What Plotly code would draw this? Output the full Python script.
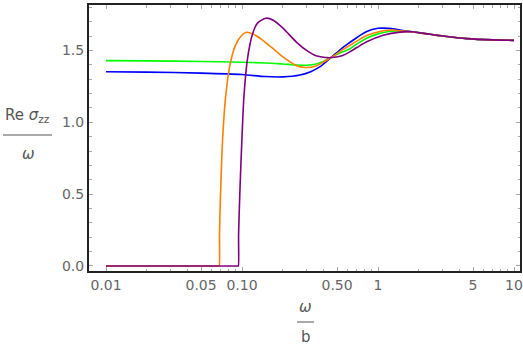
import plotly.graph_objects as go

# ---- data ----
green_x = [0.01, 0.02, 0.05, 0.1, 0.15, 0.2, 0.25, 0.3, 0.35, 0.4, 0.45, 0.55, 0.62, 0.7, 0.826, 1.0, 1.2, 1.45, 1.8, 2.41, 3.0, 4.5, 7.0, 10.0]
green_y = [1.429, 1.427, 1.423, 1.418, 1.412, 1.405, 1.399, 1.397, 1.405, 1.425, 1.45, 1.49, 1.51, 1.545, 1.585, 1.615, 1.632, 1.636, 1.63, 1.612, 1.60, 1.582, 1.573, 1.570]

blue_x = [0.01, 0.02, 0.05, 0.1, 0.148, 0.2, 0.267, 0.32, 0.375, 0.45, 0.55, 0.62, 0.7, 0.826, 1.0, 1.1, 1.3, 1.45, 1.8, 2.41, 3.0, 4.5, 7.0, 10.0]
blue_y = [1.352, 1.349, 1.342, 1.332, 1.318, 1.316, 1.329, 1.352, 1.387, 1.45, 1.52, 1.555, 1.59, 1.632, 1.654, 1.655, 1.65, 1.642, 1.628, 1.612, 1.60, 1.582, 1.573, 1.570]

orange_x = [0.01, 0.0675, 0.068, 0.0683, 0.0697, 0.072, 0.076, 0.082, 0.09, 0.1, 0.108, 0.12, 0.14, 0.17, 0.2, 0.25, 0.29, 0.35, 0.45, 0.55, 0.62, 0.7, 0.826, 1.094, 1.3, 1.45, 1.8, 2.41, 3.0, 4.5, 7.0, 10.0]
orange_y = [0.0, 0.0, 0.0, 0.22, 0.53, 0.88, 1.19, 1.41, 1.54, 1.607, 1.626, 1.615, 1.575, 1.51, 1.455, 1.395, 1.381, 1.392, 1.45, 1.505, 1.535, 1.565, 1.603, 1.637, 1.642, 1.637, 1.628, 1.612, 1.60, 1.582, 1.573, 1.570]

purple_x = [0.01, 0.0935, 0.094, 0.0944, 0.0966, 0.1, 0.1035, 0.11, 0.12, 0.13, 0.15, 0.17, 0.2, 0.25, 0.3, 0.35, 0.42, 0.48, 0.55, 0.62, 0.7, 0.826, 1.094, 1.45, 1.8, 2.41, 3.0, 4.5, 7.0, 10.0]
purple_y = [0.0, 0.0, 0.0, 0.22, 0.53, 0.9, 1.19, 1.45, 1.62, 1.69, 1.724, 1.71, 1.655, 1.56, 1.498, 1.462, 1.45, 1.452, 1.465, 1.49, 1.52, 1.56, 1.605, 1.627, 1.63, 1.612, 1.60, 1.582, 1.573, 1.570]

x_tickvals = [0.01, 0.05, 0.1, 0.5, 1, 5, 10]
x_ticktext = ["0.01", "0.05", "0.10", "0.50", "1", "5", "10"]
x_minor = [0.02, 0.03, 0.04, 0.06, 0.07, 0.08, 0.09,
           0.2, 0.3, 0.4, 0.6, 0.7, 0.8, 0.9,
           2, 3, 4, 6, 7, 8, 9]
y_tickvals = [0.0, 0.5, 1.0, 1.5]
y_ticktext = ["0.0", "0.5", "1.0", "1.5"]

series = [
    (green_x, green_y, "#00ff00"),
    (blue_x, blue_y, "#0000ff"),
    (orange_x, orange_y, "#ff8000"),
    (purple_x, purple_y, "#800080"),
]

fig = go.Figure()
for xs, ys, col in series:
    fig.add_trace(go.Scatter(x=xs, y=ys, mode="lines",
                             line=dict(color=col, width=1.6, shape="spline", smoothing=0.8),
                             showlegend=False, hoverinfo="skip"))

tickfont = dict(family="DejaVu Sans", size=14, color="#666666")
fig.update_xaxes(type="log", range=[-2.125, 1.044], automargin=False,
                 tickvals=x_tickvals, ticktext=x_ticktext,
                 ticks="inside", ticklen=4, tickwidth=1, tickcolor="#aaaaaa",
                 minor=dict(tickvals=x_minor, ticks="inside", ticklen=2.5, tickcolor="#aaaaaa", showgrid=False),
                 showline=True, linecolor="#222222", linewidth=2, mirror="allticks",
                 showgrid=False, zeroline=False, tickfont=tickfont)
fig.update_yaxes(range=[-0.035, 1.816], automargin=False,
                 tickvals=y_tickvals, ticktext=y_ticktext,
                 ticks="inside", ticklen=4, tickwidth=1, tickcolor="#aaaaaa",
                 minor=dict(dtick=0.1, tick0=0, ticks="inside", ticklen=2.5, tickcolor="#aaaaaa", showgrid=False),
                 showline=True, linecolor="#222222", linewidth=2, mirror="allticks",
                 showgrid=False, zeroline=False, tickfont=tickfont)

lblfont = dict(family="DejaVu Sans", size=15, color="#555555")
W, H = 523, 345
L, R, T, B = 89, 3, 5, 74
pw, ph = W - L - R, H - T - B

def px(xp):
    return (xp - L) / pw

def py(yp):
    return (H - B - yp) / ph

annotations = [
    dict(x=px(27), y=py(115), text="Re <i>σ</i><sub>zz</sub>"),
    dict(x=px(28), y=py(154), text="<i>ω</i>"),
    dict(x=px(305.5), y=py(307), text="<i>ω</i>"),
    dict(x=px(305.5), y=py(337), text="b"),
]
for a in annotations:
    a.update(xref="paper", yref="paper", showarrow=False, font=lblfont,
             xanchor="center", yanchor="middle")

fig.update_layout(
    width=W, height=H,
    margin=dict(l=L, r=R, t=T, b=B, autoexpand=False),
    paper_bgcolor="white", plot_bgcolor="white",
    annotations=annotations,
    shapes=[
        dict(type="line", xref="paper", yref="paper", x0=px(3), x1=px(52), y0=py(135), y1=py(135),
             line=dict(color="#555555", width=1)),
        dict(type="line", xref="paper", yref="paper", x0=px(297), x1=px(314), y0=py(322), y1=py(322),
             line=dict(color="#555555", width=1)),
    ],
)

fig.write_html("out.html", config={"displayModeBar": False},
               post_script="document.body.style.margin='0';document.body.style.overflow='hidden';")
